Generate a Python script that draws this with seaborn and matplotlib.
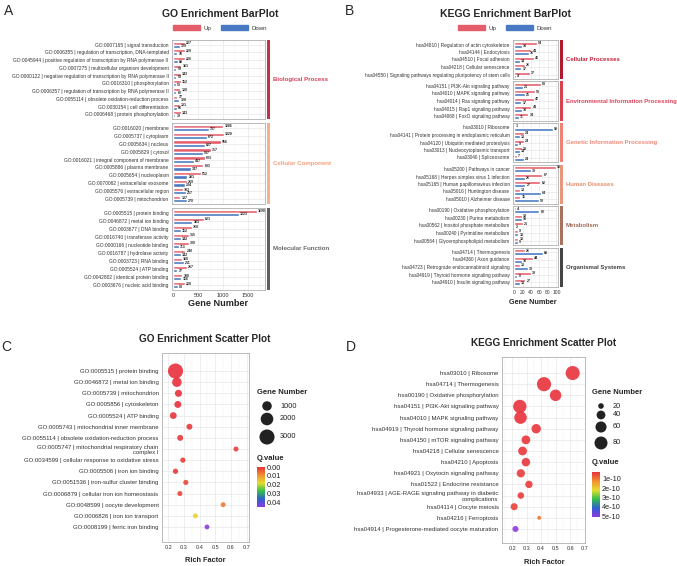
import numpy as np
import pandas as pd
import seaborn as sns
import matplotlib.pyplot as plt
import matplotlib.cm as cm
from matplotlib.patches import Rectangle, Patch
from matplotlib.colors import LinearSegmentedColormap, Normalize
from matplotlib.ticker import MultipleLocator

# ---------------- data: GO bar plot ----------------
go_bp_terms = ["GO:0007165 | signal transduction",
               "GO:0006355 | regulation of transcription, DNA-templated",
               "GO:0045944 | positive regulation of transcription by RNA polymerase II",
               "GO:0007275 | multicellular organism development",
               "GO:0000122 | negative regulation of transcription by RNA polymerase II",
               "GO:0016310 | phosphorylation",
               "GO:0006357 | regulation of transcription by RNA polymerase II",
               "GO:0055114 | obsolete oxidation-reduction process",
               "GO:0030154 | cell differentiation",
               "GO:0006468 | protein phosphorylation"]
go_bp_up = [227, 229, 226, 161, 143, 152, 139, 77, 131, 143]
go_bp_down = [129, 78, 88, 59, 59, 53, 60, 120, 66, 39]

go_cc_terms = ["GO:0016020 | membrane", "GO:0005737 | cytoplasm", "GO:0005634 | nucleus",
               "GO:0005829 | cytosol", "GO:0016021 | integral component of membrane",
               "GO:0005886 | plasma membrane", "GO:0005654 | nucleoplasm",
               "GO:0070062 | extracellular exosome", "GO:0005576 | extracellular region",
               "GO:0005739 | mitochondrion"]
go_cc_up = [1006, 1020, 956, 757, 633, 603, 552, 269, 183, 137]
go_cc_down = [717, 672, 627, 597, 417, 347, 281, 234, 257, 270]

go_mf_terms = ["GO:0005515 | protein binding", "GO:0046872 | metal ion binding",
               "GO:0003677 | DNA binding", "GO:0016740 | transferase activity",
               "GO:0000166 | nucleotide binding", "GO:0016787 | hydrolase activity",
               "GO:0003723 | RNA binding", "GO:0005524 | ATP binding",
               "GO:0042802 | identical protein binding", "GO:0003676 | nucleic acid binding"]
go_mf_up = [1690, 621, 368, 315, 309, 240, 168, 267, 180, 228]
go_mf_down = [1323, 383, 152, 142, 113, 142, 211, 77, 156, 83]

go_groups = ["Biological Process", "Cellular Component", "Molecular Function"]

# ---------------- data: KEGG bar plot ----------------
kegg_cp_terms = ["hsa04810 | Regulation of actin cytoskeleton", "hsa04144 | Endocytosis",
                 "hsa04510 | Focal adhesion", "hsa04218 | Cellular senescence",
                 "hsa04550 | Signaling pathways regulating pluripotency of stem cells"]
kegg_cp_up = [54, 41, 46, 26, 37]
kegg_cp_down = [18, 36, 14, 17, 4]

kegg_eip_terms = ["hsa04151 | PI3K-Akt signaling pathway", "hsa04010 | MAPK signaling pathway",
                  "hsa04014 | Ras signaling pathway", "hsa04015 | Rap1 signaling pathway",
                  "hsa04068 | FoxO signaling pathway"]
kegg_eip_up = [63, 50, 47, 41, 34]
kegg_eip_down = [21, 25, 17, 18, 11]

kegg_gip_terms = ["hsa03010 | Ribosome", "hsa04141 | Protein processing in endoplasmic reticulum",
                  "hsa04120 | Ubiquitin mediated proteolysis", "hsa03013 | Nucleocytoplasmic transport",
                  "hsa03040 | Spliceosome"]
kegg_gip_up = [1, 24, 24, 19, 7]
kegg_gip_down = [92, 13, 9, 14, 24]

kegg_hd_terms = ["hsa05200 | Pathways in cancer", "hsa05168 | Herpes simplex virus 1 infection",
                 "hsa05165 | Human papillomavirus infection", "hsa05016 | Huntington disease",
                 "hsa05010 | Alzheimer disease"]
kegg_hd_up = [98, 67, 62, 13, 15]
kegg_hd_down = [39, 26, 27, 64, 59]

kegg_met_terms = ["hsa00190 | Oxidative phosphorylation", "hsa00230 | Purine metabolism",
                  "hsa00562 | Inositol phosphate metabolism", "hsa00240 | Pyrimidine metabolism",
                  "hsa00564 | Glycerophospholipid metabolism"]
kegg_met_up = [4, 19, 21, 9, 10]
kegg_met_down = [60, 18, 2, 10, 9]

kegg_os_terms = ["hsa04714 | Thermogenesis", "hsa04360 | Axon guidance",
                 "hsa04723 | Retrograde endocannabinoid signaling",
                 "hsa04919 | Thyroid hormone signaling pathway", "hsa04910 | Insulin signaling pathway"]
kegg_os_up = [26, 44, 13, 39, 27]
kegg_os_down = [68, 18, 33, 8, 13]

kegg_groups = ["Cellular Processes", "Environmental Information Processing",
               "Genetic Information Processing", "Human Diseases", "Metabolism",
               "Organismal Systems"]

# ---------------- data: scatter plots ----------------
go_sc_terms = ["GO:0005515 | protein binding", "GO:0046872 | metal ion binding",
               "GO:0005739 | mitochondrion", "GO:0005856 | cytoskeleton",
               "GO:0005524 | ATP binding", "GO:0005743 | mitochondrial inner membrane",
               "GO:0055114 | obsolete oxidation-reduction process",
               "GO:0005747 | mitochondrial respiratory chain\ncomplex I",
               "GO:0034599 | cellular response to oxidative stress",
               "GO:0005506 | iron ion binding", "GO:0051536 | iron-sulfur cluster binding",
               "GO:0006879 | cellular iron ion homeostasis", "GO:0048599 | oocyte development",
               "GO:0006826 | iron ion transport", "GO:0008199 | ferric iron binding"]
go_sc_rich = [0.246, 0.255, 0.265, 0.261, 0.232, 0.335, 0.276, 0.632, 0.293, 0.246,
              0.312, 0.274, 0.550, 0.373, 0.447]
go_sc_genes = [3013, 1004, 407, 380, 344, 190, 197, 40, 70, 75, 55, 45, 25, 20, 12]
go_sc_q = [0.0, 0.0, 0.0, 0.0, 0.0005, 0.001, 0.001, 0.0015, 0.0015, 0.001, 0.002,
           0.002, 0.007, 0.017, 0.0445]

kegg_sc_terms = ["hsa03010 | Ribosome", "hsa04714 | Thermogenesis",
                 "hsa00190 | Oxidative phosphorylation", "hsa04151 | PI3K-Akt signaling pathway",
                 "hsa04010 | MAPK signaling pathway", "hsa04919 | Thyroid hormone signaling pathway",
                 "hsa04150 | mTOR signaling pathway", "hsa04218 | Cellular senescence",
                 "hsa04210 | Apoptosis", "hsa04921 | Oxytocin signaling pathway",
                 "hsa01522 | Endocrine resistance",
                 "hsa04933 | AGE-RAGE signaling pathway in diabetic\ncomplications",
                 "hsa04114 | Oocyte meiosis", "hsa04216 | Ferroptosis",
                 "hsa04914 | Progesterone-mediated oocyte maturation"]
kegg_sc_rich = [0.618, 0.420, 0.500, 0.253, 0.258, 0.366, 0.295, 0.272, 0.295, 0.260,
                0.316, 0.260, 0.214, 0.387, 0.223]
kegg_sc_genes = [93, 94, 64, 84, 75, 45, 40, 40, 38, 36, 30, 25, 28, 13, 22]
kegg_sc_q = [0.3e-10, 0.3e-10, 0.3e-10, 0.3e-10, 0.3e-10, 0.35e-10, 0.35e-10, 0.35e-10,
             0.35e-10, 0.4e-10, 0.4e-10, 0.4e-10, 0.45e-10, 1.0e-10, 5.1e-10]

# ---------------- styling ----------------
UP_COL = "#e35d6a"
DOWN_COL = "#4a79c3"
go_strip_cols = ["#c2324a", "#f5b08e", "#606060"]
go_text_cols = ["#d8405a", "#f4a07c", "#666666"]
kegg_strip_cols = ["#b0192e", "#d8424f", "#ef8272", "#e9977c", "#a8725f", "#454545"]
kegg_text_cols = ["#c4233c", "#e0425a", "#f08a78", "#e8906c", "#a06a58", "#404040"]
CMAP = LinearSegmentedColormap.from_list(
    "qv", ["#e8303c", "#f29030", "#e6dc2e", "#34c048", "#2d5fd0", "#8e3ae0"])

W, H = 677, 566


def box(l, t, r, b):
    return [l / W, 1 - b / H, (r - l) / W, (b - t) / H]


def fx(x):
    return x / W


def fy(y):
    return 1 - y / H


sns.set_style("white")
plt.rcParams["font.family"] = ["Liberation Sans", "DejaVu Sans"]

fig = plt.figure(figsize=(6.77, 5.66), dpi=100)


def style_axes(ax):
    ax.set_facecolor("white")
    for s in ax.spines.values():
        s.set_color("#b0b0b0")
        s.set_linewidth(0.6)
    ax.grid(True, which="major", color="#e4e4e4", linewidth=0.45)
    ax.grid(True, which="minor", axis="x", color="#f0f0f0", linewidth=0.3)
    ax.set_axisbelow(True)
    ax.tick_params(which="major", length=1.5, width=0.4, color="#333333",
                   pad=1, labelcolor="#333333")
    ax.tick_params(which="minor", length=0)


def bar_facet(rect, terms, up, down, xlim, major, minor, strip_col, text_col,
              label, ylab_size, xlab_size, strip_size, show_x):
    ax = fig.add_axes(box(*rect))
    n = len(terms)
    df = pd.DataFrame({"term": terms * 2, "count": up + down,
                       "direction": ["Up"] * n + ["Down"] * n})
    sns.barplot(data=df, x="count", y="term", hue="direction", hue_order=["Up", "Down"],
                palette={"Up": UP_COL, "Down": DOWN_COL}, width=0.8, orient="h",
                saturation=1, legend=False, ax=ax)
    for c in ax.containers:
        for t in ax.bar_label(c, fontsize=2.5, padding=0.8, fontweight="bold", color="#222222"):
            t.set_clip_on(True)
    style_axes(ax)
    ax.set_xlim(*xlim)
    ax.set_ylim(n - 0.4, -0.6)
    ax.xaxis.set_major_locator(MultipleLocator(major))
    ax.xaxis.set_minor_locator(MultipleLocator(minor))
    ax.set_xlabel("")
    ax.set_ylabel("")
    ax.tick_params(axis="y", labelsize=ylab_size)
    ax.tick_params(axis="x", labelsize=xlab_size)
    if not show_x:
        ax.tick_params(axis="x", labelbottom=False, length=0)
    wpx = rect[2] - rect[0]
    ax.add_patch(Rectangle((1 + 2 / wpx, 0), 3 / wpx, 1, transform=ax.transAxes,
                           color=strip_col, clip_on=False, lw=0))
    ax.text(1 + 8 / wpx, 0.5, label, transform=ax.transAxes, ha="left", va="center",
            fontsize=strip_size, fontweight="bold", color=text_col)
    return ax


# ---- Panel A ----
go_sets = [(go_bp_terms, go_bp_up, go_bp_down, (40, 119)),
           (go_cc_terms, go_cc_up, go_cc_down, (123, 204)),
           (go_mf_terms, go_mf_up, go_mf_down, (208, 290))]
for i, (terms, up, down, (t, b)) in enumerate(go_sets):
    bar_facet((172, t, 265, b), terms, up, down, (-30, 1850), 500, 250,
              go_strip_cols[i], go_text_cols[i], go_groups[i], 3.5, 4.0, 4.4, i == 2)

# ---- Panel B ----
kegg_sets = [(kegg_cp_terms, kegg_cp_up, kegg_cp_down),
             (kegg_eip_terms, kegg_eip_up, kegg_eip_down),
             (kegg_gip_terms, kegg_gip_up, kegg_gip_down),
             (kegg_hd_terms, kegg_hd_up, kegg_hd_down),
             (kegg_met_terms, kegg_met_up, kegg_met_down),
             (kegg_os_terms, kegg_os_up, kegg_os_down)]
for i, (terms, up, down) in enumerate(kegg_sets):
    t = 40 + i * 41.5
    bar_facet((513, t, 558, t + 39), terms, up, down, (-2.4, 103.6), 20, 10,
              kegg_strip_cols[i], kegg_text_cols[i], kegg_groups[i], 3.4, 3.6, 4.3, i == 5)

for cx in (220, 505):
    fig.legend(handles=[Patch(color=UP_COL, label="Up"), Patch(color=DOWN_COL, label="Down")],
               loc="center", bbox_to_anchor=(fx(cx), fy(28)), ncol=2, frameon=False,
               fontsize=4.4, handlelength=4.4, handleheight=0.85, columnspacing=1.6,
               handletextpad=0.6, labelcolor="#333333")

fig.text(fx(220), fy(14), "GO Enrichment BarPlot", ha="center", va="center",
         fontsize=7.5, fontweight="bold")
fig.text(fx(505), fy(14), "KEGG Enrichment BarPlot", ha="center", va="center",
         fontsize=7.5, fontweight="bold")
fig.text(fx(218), fy(303), "Gene Number", ha="center", va="center", fontsize=6.6,
         fontweight="bold")
fig.text(fx(533), fy(303), "Gene Number", ha="center", va="center", fontsize=5.2,
         fontweight="bold")


# ---------------- scatter panels ----------------
def scatter_panel(rect, terms, rich, genes, q, xlim, pad_top, pad_bot, size_rng,
                  size_norm, q_norm):
    ax = fig.add_axes(box(*rect))
    df = pd.DataFrame({"term": terms, "rich": rich, "genes": genes, "q": q})
    sns.scatterplot(data=df, x="rich", y="term", size="genes", sizes=size_rng,
                    size_norm=size_norm, hue="q", palette=CMAP, hue_norm=q_norm,
                    alpha=0.9, linewidth=0, legend=False, ax=ax)
    style_axes(ax)
    n = len(terms)
    ax.set_xlim(*xlim)
    ax.set_ylim(n - 1 + pad_bot, -pad_top)
    ax.xaxis.set_major_locator(MultipleLocator(0.1))
    ax.xaxis.set_minor_locator(MultipleLocator(0.05))
    ax.set_xlabel("")
    ax.set_ylabel("")
    ax.tick_params(axis="y", labelsize=4.3)
    ax.tick_params(axis="x", labelsize=4.0)
    return ax


def size_legend(l, t, r, b, cx, lx, values, ys, size_rng, size_norm, title_y, title_x):
    lax = fig.add_axes(box(l, t, r, b))
    lax.set_xlim(l, r)
    lax.set_ylim(b, t)
    lax.axis("off")
    sns.scatterplot(x=[cx] * len(values), y=ys, size=values, sizes=size_rng,
                    size_norm=size_norm, color="#222222", linewidth=0, legend=False, ax=lax)
    for v, y in zip(values, ys):
        lax.text(lx, y, str(v), ha="left", va="center", fontsize=5.3, color="#222222")
    fig.text(fx(title_x), fy(title_y), "Gene Number", ha="left", va="center",
             fontsize=5.5, fontweight="bold")


def q_colorbar(rect, q_norm, ticks, labels, title_x, title_y):
    cax = fig.add_axes(box(*rect))
    cb = fig.colorbar(cm.ScalarMappable(norm=Normalize(*q_norm), cmap=CMAP), cax=cax)
    cax.invert_yaxis()
    cb.set_ticks(ticks)
    cb.set_ticklabels(labels)
    cb.outline.set_visible(False)
    cax.tick_params(length=1.8, width=0.5, color="white", direction="in",
                    labelsize=5.3, pad=1.5, labelcolor="#222222")
    fig.text(fx(title_x), fy(title_y), "Q.value", ha="left", va="center",
             fontsize=5.5, fontweight="bold")


# ---- Panel C ----
c_sizes, c_norm = (12, 118), (10, 3013)
c_qnorm = (0.0, 0.045)
scatter_panel((162, 353, 249, 542), go_sc_terms, go_sc_rich, go_sc_genes, go_sc_q,
              (0.16, 0.715), 1.62, 1.35, c_sizes, c_norm, c_qnorm)
size_legend(255, 398, 300, 446, 267, 280, [1000, 2000, 3000], [406, 419, 437],
            c_sizes, c_norm, 392, 257)
q_colorbar((257, 467, 265, 507), c_qnorm, [0, 0.01, 0.02, 0.03, 0.04],
           ["0.00", "0.01", "0.02", "0.03", "0.04"], 257, 458)
fig.text(fx(205), fy(339), "GO Enrichment Scatter Plot", ha="center", va="center",
         fontsize=7.2, fontweight="bold")
fig.text(fx(205), fy(560), "Rich Factor", ha="center", va="center", fontsize=5.3,
         fontweight="bold")

# ---- Panel D ----
d_sizes, d_norm = (8, 104), (13, 94)
d_qnorm = (0.28e-10, 5.1e-10)
scatter_panel((502, 357, 585, 543), kegg_sc_terms, kegg_sc_rich, kegg_sc_genes, kegg_sc_q,
              (0.13, 0.703), 1.44, 1.26, d_sizes, d_norm, d_qnorm)
size_legend(590, 398, 640, 452, 601, 613, [20, 40, 60, 80], [406, 415, 427, 443],
            d_sizes, d_norm, 393, 592)
q_colorbar((592, 472, 600, 517), d_qnorm, [1e-10, 2e-10, 3e-10, 4e-10, 5e-10],
           ["1e-10", "2e-10", "3e-10", "4e-10", "5e-10"], 592, 463)
fig.text(fx(544), fy(343), "KEGG Enrichment Scatter Plot", ha="center", va="center",
         fontsize=7.2, fontweight="bold")
fig.text(fx(544), fy(562), "Rich Factor", ha="center", va="center", fontsize=5.3,
         fontweight="bold")

# panel letters
for letter, x, y in [("A", 9, 11), ("B", 350, 11), ("C", 6, 347), ("D", 351, 347)]:
    fig.text(fx(x), fy(y), letter, ha="center", va="center", fontsize=10)

fig.savefig("out.png", dpi=100)
